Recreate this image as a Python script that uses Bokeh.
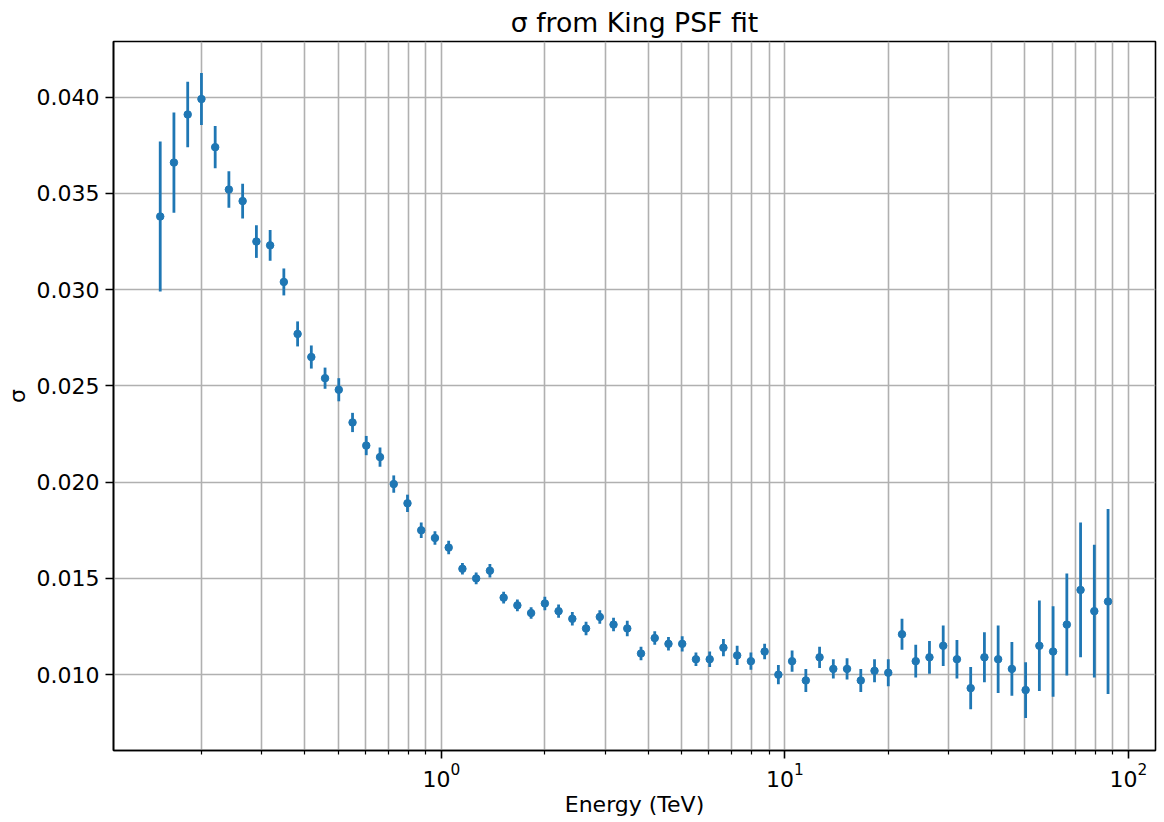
from bokeh.plotting import figure
from bokeh.models import ColumnDataSource, FixedTicker, NumeralTickFormatter, Range1d
from bokeh.embed import file_html
from bokeh.resources import INLINE

energy = [0.1517, 0.1663, 0.1824, 0.2000, 0.2193, 0.2404, 0.2636, 0.2891, 0.3170, 0.3475,
          0.3811, 0.4178, 0.4581, 0.5023, 0.5508, 0.6039, 0.6622, 0.7261, 0.7962, 0.8730,
          0.9572, 1.0495, 1.1508, 1.2618, 1.3836, 1.5171, 1.6634, 1.8239, 2.0000, 2.1928,
          2.4044, 2.6363, 2.8907, 3.1696, 3.4754, 3.8107, 4.1783, 4.5814, 5.0234, 5.5081,
          6.0395, 6.6222, 7.2611, 7.9616, 8.7297, 9.5719, 10.495, 11.508, 12.618, 13.836,
          15.171, 16.634, 18.239, 20.000, 21.928, 24.044, 26.363, 28.907, 31.696, 34.754,
          38.107, 41.783, 45.814, 50.234, 55.081, 60.395, 66.222, 72.611, 79.616, 87.297]

sigma = [0.0338, 0.0366, 0.0391, 0.0399, 0.0374, 0.0352, 0.0346, 0.0325, 0.0323, 0.0304,
         0.0277, 0.0265, 0.0254, 0.0248, 0.0231, 0.0219, 0.0213, 0.0199, 0.0189, 0.0175,
         0.0171, 0.0166, 0.0155, 0.0150, 0.0154, 0.0140, 0.0136, 0.0132, 0.0137, 0.0133,
         0.0129, 0.0124, 0.0130, 0.0126, 0.0124, 0.0111, 0.0119, 0.0116, 0.0116, 0.0108,
         0.0108, 0.0114, 0.0110, 0.0107, 0.0112, 0.0100, 0.0107, 0.0097, 0.0109, 0.0103,
         0.0103, 0.0097, 0.0102, 0.0101, 0.0121, 0.0107, 0.0109, 0.0115, 0.0108, 0.0093,
         0.0109, 0.0108, 0.0103, 0.0092, 0.0115, 0.0112, 0.0126, 0.0144, 0.0133, 0.0138]

sigma_err = [0.0039, 0.0026, 0.0017, 0.00135, 0.0011, 0.00095, 0.0009, 0.00085, 0.0008, 0.0007,
             0.00065, 0.0006, 0.00055, 0.0006, 0.0005, 0.0005, 0.0005, 0.00045, 0.00045, 0.0004,
             0.00035, 0.00035, 0.0003, 0.0003, 0.00035, 0.0003, 0.0003, 0.0003, 0.00035, 0.00035,
             0.00035, 0.00035, 0.00035, 0.00035, 0.0004, 0.00035, 0.00035, 0.00035, 0.0004, 0.00035,
             0.0004, 0.00045, 0.0005, 0.00045, 0.0004, 0.0005, 0.00055, 0.0006, 0.00055, 0.0005,
             0.00055, 0.0006, 0.0006, 0.0007, 0.0008, 0.00085, 0.00085, 0.00105, 0.001, 0.0011,
             0.0013, 0.00175, 0.0014, 0.00145, 0.00235, 0.00235, 0.00265, 0.0035, 0.00345, 0.0048]

x_major_ticks = [1, 10, 100]
x_minor_ticks = [0.2, 0.3, 0.4, 0.5, 0.6, 0.7, 0.8, 0.9,
                 2, 3, 4, 5, 6, 7, 8, 9,
                 20, 30, 40, 50, 60, 70, 80, 90]
y_ticks = [0.010, 0.015, 0.020, 0.025, 0.030, 0.035, 0.040]

lower = [s - e for s, e in zip(sigma, sigma_err)]
upper = [s + e for s, e in zip(sigma, sigma_err)]
src = ColumnDataSource(dict(x=energy, y=sigma, lo=lower, hi=upper))

FONT = "DejaVu Sans"
p = figure(width=1164, height=822, x_axis_type="log", output_backend="svg",
           toolbar_location=None, title="σ from King PSF fit",
           x_range=Range1d(0.1109, 120.0), y_range=Range1d(0.00606, 0.04289),
           min_border_left=113, min_border_right=9, min_border_top=40, min_border_bottom=72)

p.title.align = "center"
p.title.text_font = FONT
p.title.text_font_size = "26.7px"
p.title.text_font_style = "normal"
p.title.text_color = "black"
p.title.standoff = 8

p.outline_line_color = "black"
p.outline_line_alpha = 1
p.outline_line_width = 1.6

p.xaxis.ticker = FixedTicker(ticks=x_major_ticks, minor_ticks=x_minor_ticks)
p.yaxis.ticker = FixedTicker(ticks=y_ticks)
p.yaxis.formatter = NumeralTickFormatter(format="0.000")

for ax in (p.xaxis, p.yaxis):
    ax.axis_line_color = "black"
    ax.axis_line_width = 1.6
    ax.major_tick_line_color = "black"
    ax.major_tick_line_width = 1.6
    ax.major_tick_out = 8
    ax.major_tick_in = 0
    ax.minor_tick_line_color = "black"
    ax.minor_tick_line_width = 1.2
    ax.minor_tick_out = 4
    ax.minor_tick_in = 0
    ax.major_label_text_font = FONT
    ax.major_label_text_font_size = "22px"
    ax.major_label_text_color = "black"
    ax.axis_label_text_font = FONT
    ax.axis_label_text_font_size = "22px"
    ax.axis_label_text_font_style = "normal"
    ax.axis_label_text_color = "black"
p.yaxis.minor_tick_line_color = None
p.yaxis.major_label_standoff = 6
p.yaxis.axis_label_standoff = 4
p.xaxis.major_label_standoff = 4
p.xaxis.axis_label_standoff = 2

p.xaxis.axis_label = "Energy (TeV)"
p.yaxis.axis_label = "σ"

p.xgrid.grid_line_color = "#b0b0b0"
p.xgrid.grid_line_width = 1.6
p.xgrid.minor_grid_line_color = "#b0b0b0"
p.xgrid.minor_grid_line_width = 1.6
p.ygrid.grid_line_color = "#b0b0b0"
p.ygrid.grid_line_width = 1.6

p.segment(x0="x", y0="lo", x1="x", y1="hi", source=src, line_color="#1f77b4", line_width=2.8)
p.scatter(x="x", y="y", source=src, size=7.5, color="#1f77b4")

open("out.html", "w").write(file_html(p, INLINE))
